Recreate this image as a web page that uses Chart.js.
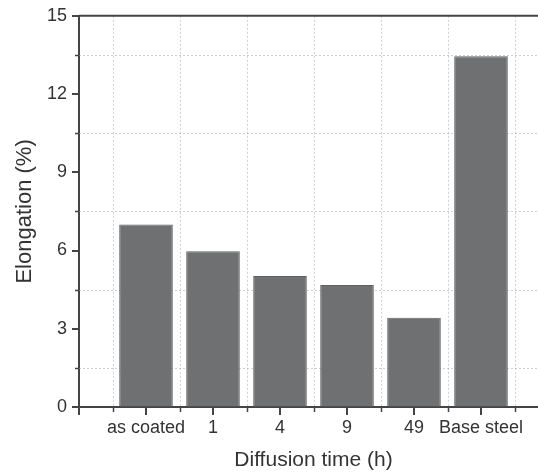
<!DOCTYPE html>
<html>
<head>
<meta charset="utf-8">
<script src="https://cdn.jsdelivr.net/npm/chart.js@4"></script>
<style>
  html, body { margin: 0; padding: 0; background: #ffffff; overflow: hidden; }
  #wrap { width: 560px; height: 475px; }
</style>
</head>
<body>
<div id="wrap"><canvas id="chart" width="560" height="475"></canvas></div>
<script>
  // blank slots at both ends leave half a category of room like the original
  const categories = ["", "as coated", "1", "4", "9", "49", "Base steel", ""];
  const elongation = [null, 7.0, 5.97, 5.02, 4.68, 3.42, 13.45, null];
  const yTicks = [0, 3, 6, 9, 12, 15];
  const yMinor = [1.5, 4.5, 7.5, 10.5, 13.5];

  const AXIS = "#444444";
  const TEXT = "#333333";
  const BAR = "#6f7072";
  const GRID = "rgba(150, 150, 150, 0.45)";

  function midX(x, i) {
    return Math.round((x.getPixelForValue(i) + x.getPixelForValue(i + 1)) / 2) + 0.5;
  }

  const axisPlugin = {
    id: "axisMarks",
    beforeDatasetsDraw(chart) {
      const ctx = chart.ctx;
      const area = chart.chartArea;
      const x = chart.scales.x;
      const y = chart.scales.y;
      ctx.save();
      ctx.strokeStyle = GRID;
      ctx.lineWidth = 1;
      ctx.setLineDash([2, 2]);
      for (const v of yMinor) {
        const py = Math.round(y.getPixelForValue(v)) + 0.5;
        ctx.beginPath();
        ctx.moveTo(area.left, py);
        ctx.lineTo(area.right, py);
        ctx.stroke();
      }
      for (let i = 0; i < categories.length - 1; i++) {
        const px = midX(x, i);
        ctx.beginPath();
        ctx.moveTo(px, area.top);
        ctx.lineTo(px, area.bottom);
        ctx.stroke();
      }
      ctx.restore();
    },
    afterDraw(chart) {
      const ctx = chart.ctx;
      const area = chart.chartArea;
      const x = chart.scales.x;
      const y = chart.scales.y;
      ctx.save();
      ctx.strokeStyle = AXIS;
      ctx.lineWidth = 2;
      // major ticks
      for (const v of yTicks) {
        const py = Math.round(y.getPixelForValue(v));
        ctx.beginPath();
        ctx.moveTo(area.left - 7, py);
        ctx.lineTo(area.left, py);
        ctx.stroke();
      }
      for (let i = 0; i < categories.length; i++) {
        const px = Math.round(x.getPixelForValue(i));
        ctx.beginPath();
        ctx.moveTo(px, area.bottom);
        ctx.lineTo(px, area.bottom + 8);
        ctx.stroke();
      }
      // minor ticks
      ctx.lineWidth = 1.5;
      for (const v of yMinor) {
        const py = Math.round(y.getPixelForValue(v)) + 0.5;
        ctx.beginPath();
        ctx.moveTo(area.left - 4, py);
        ctx.lineTo(area.left, py);
        ctx.stroke();
      }
      for (let i = 0; i < categories.length - 1; i++) {
        const px = midX(x, i);
        ctx.beginPath();
        ctx.moveTo(px, area.bottom);
        ctx.lineTo(px, area.bottom + 5);
        ctx.stroke();
      }
      // top frame line
      ctx.lineWidth = 2;
      ctx.beginPath();
      ctx.moveTo(area.left, area.top);
      ctx.lineTo(area.right, area.top);
      ctx.stroke();
      ctx.restore();
    },
  };

  // invisible built-in tick marks keep the label spacing
  const hiddenGrid = {
    display: true,
    drawOnChartArea: false,
    drawTicks: true,
    tickLength: 7,
    color: "rgba(0,0,0,0)",
  };

  new Chart(document.getElementById("chart"), {
    type: "bar",
    data: {
      labels: categories,
      datasets: [
        {
          data: elongation,
          backgroundColor: BAR,
          borderColor: "#606163",
          borderWidth: 1,
          categoryPercentage: 1,
          barPercentage: 0.8,
        },
      ],
    },
    options: {
      responsive: false,
      animation: false,
      layout: { padding: { top: 15, right: 12, left: 0, bottom: 0 } },
      plugins: { legend: { display: false }, tooltip: { enabled: false } },
      scales: {
        x: {
          offset: false,
          grid: { ...hiddenGrid, offset: false },
          border: { display: true, color: AXIS, width: 2 },
          ticks: {
            color: TEXT,
            font: { family: "Liberation Sans, Arial, sans-serif", size: 18 },
            padding: 3,
            maxRotation: 0,
            autoSkip: false,
          },
          title: {
            display: true,
            text: "Diffusion time (h)",
            color: TEXT,
            font: { family: "Liberation Sans, Arial, sans-serif", size: 21 },
            padding: { top: 0, bottom: 2 },
          },
          afterFit(scale) { scale.height = 68; },
        },
        y: {
          min: 0,
          max: 15,
          afterBuildTicks(scale) { scale.ticks = yTicks.map((v) => ({ value: v })); },
          grid: hiddenGrid,
          border: { display: true, color: AXIS, width: 2 },
          ticks: {
            color: TEXT,
            font: { family: "Liberation Sans, Arial, sans-serif", size: 18 },
            padding: 5,
          },
          title: {
            display: true,
            text: "Elongation (%)",
            color: TEXT,
            font: { family: "Liberation Sans, Arial, sans-serif", size: 22 },
            padding: { top: 12, bottom: 0 },
          },
          afterFit(scale) { scale.width = 79; },
        },
      },
    },
    plugins: [axisPlugin],
  });
</script>
</body>
</html>
